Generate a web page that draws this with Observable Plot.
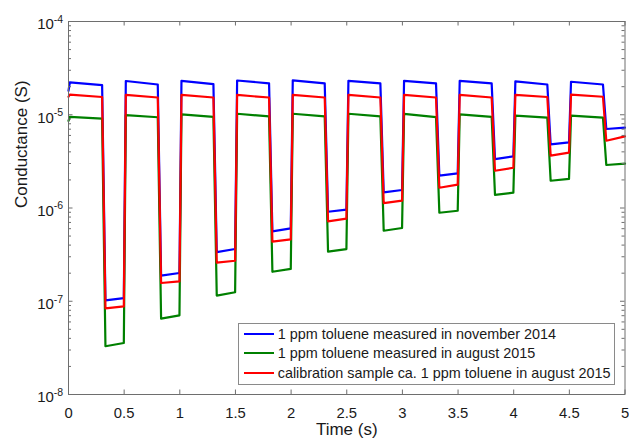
<!DOCTYPE html>
<html>
<head>
<meta charset="utf-8">
<script src="https://cdn.jsdelivr.net/npm/d3@7"></script>
<script src="https://cdn.jsdelivr.net/npm/@observablehq/plot@0.6"></script>
<style>
  body { margin: 0; background: #fff; }
  #wrap { position: relative; width: 629px; height: 443px; font-family: "Liberation Sans", Arial, Helvetica, sans-serif; color: #1a1a1a; }
  #wrap svg { position: absolute; left: 0; top: 0; }
  #legend { position: absolute; left: 238px; top: 323px; width: 377px; height: 62px; box-sizing: border-box;
            border: 1px solid #8a8a8a; background: #fff; padding-top: 0.5px; font-size: 14.4px; }
  #legend .row { height: 19.7px; line-height: 19.7px; white-space: nowrap; }
  #legend .sw { display: inline-block; width: 30px; height: 2.2px; margin-left: 5px; margin-right: 3.7px; vertical-align: middle; position: relative; top: -1px; }
</style>
</head>
<body>
<div id="wrap"><div id="legend"></div></div>
<script>
// ---------- data ----------
const cycleStart = [0, 0.5, 1, 1.5, 2, 2.5, 3, 3.5, 4, 4.5];
const seriesNames = [
  "1 ppm toluene measured in november 2014",
  "1 ppm toluene measured in august 2015",
  "calibration sample ca. 1 ppm toluene in august 2015"
];
const seriesColors = ["#0000ff", "#008000", "#ff0000"];

// initial value at t = 0
const initialValue = [1.81e-5, 8.6e-6, 1.56e-5];

// blue: november 2014
const blueHighStart = [2.22e-5, 2.30e-5, 2.31e-5, 2.33e-5, 2.34e-5, 2.31e-5, 2.31e-5, 2.31e-5, 2.28e-5, 2.26e-5];
const blueHighEnd   = [2.08e-5, 2.11e-5, 2.13e-5, 2.17e-5, 2.17e-5, 2.17e-5, 2.17e-5, 2.17e-5, 2.11e-5, 2.11e-5];
const blueLowStart  = [1.02e-7, 1.88e-7, 3.37e-7, 5.61e-7, 9.12e-7, 1.47e-6, 2.22e-6, 3.35e-6, 4.81e-6, 7.03e-6];
const blueLowEnd    = [1.08e-7, 2.01e-7, 3.63e-7, 6.04e-7, 9.60e-7, 1.56e-6, 2.35e-6, 3.57e-6, 5.05e-6, 7.26e-6];

// green: august 2015
const greenHighStart = [9.5e-6, 9.9e-6, 1.01e-5, 1.025e-5, 1.025e-5, 1.025e-5, 1.02e-5, 1.01e-5, 9.8e-6, 9.8e-6];
const greenHighEnd   = [9.1e-6, 9.4e-6, 9.5e-6, 9.6e-6, 9.6e-6, 9.6e-6, 9.45e-6, 9.5e-6, 9.3e-6, 9.3e-6];
const greenLowStart  = [3.29e-8, 6.5e-8, 1.15e-7, 2.07e-7, 3.40e-7, 5.7e-7, 8.9e-7, 1.38e-6, 1.96e-6, 2.89e-6];
const greenLowEnd    = [3.57e-8, 7.06e-8, 1.25e-7, 2.22e-7, 3.63e-7, 6.1e-7, 9.35e-7, 1.46e-6, 2.05e-6, 2.99e-6];

// red: calibration sample
const redHighStart = [1.64e-5, 1.63e-5, 1.63e-5, 1.63e-5, 1.63e-5, 1.63e-5, 1.63e-5, 1.63e-5, 1.63e-5, 1.64e-5];
const redHighEnd   = [1.55e-5, 1.53e-5, 1.53e-5, 1.53e-5, 1.53e-5, 1.53e-5, 1.53e-5, 1.53e-5, 1.55e-5, 1.56e-5];
const redLowStart  = [8.4e-8, 1.57e-7, 2.59e-7, 4.35e-7, 7.2e-7, 1.13e-6, 1.65e-6, 2.51e-6, 3.64e-6, 5.26e-6];
const redLowEnd    = [8.8e-8, 1.63e-7, 2.72e-7, 4.61e-7, 7.7e-7, 1.20e-6, 1.78e-6, 2.70e-6, 3.92e-6, 5.86e-6];

// ticks
const xTicks = [0, 0.5, 1, 1.5, 2, 2.5, 3, 3.5, 4, 4.5, 5];
const yMajor = [1e-8, 1e-7, 1e-6, 1e-5, 1e-4];
const yMinorFactors = [2, 3, 4, 5, 6, 7, 8, 9];

// ---------- build table ----------
function buildSeries(name, init, hs, he, ls, le) {
  const pts = [{series: name, t: 0, v: init}];
  const n = cycleStart.length;
  cycleStart.forEach((t0, k) => {
    pts.push({series: name, t: t0 + (k === 0 ? 0.012 : 0.015), v: hs[k]});
    pts.push({series: name, t: t0 + 0.302, v: he[k]});
    pts.push({series: name, t: t0 + 0.332, v: ls[k]});
    pts.push({series: name, t: k === n - 1 ? 5 : t0 + 0.497, v: le[k]});
  });
  return pts;
}
const blue  = buildSeries(seriesNames[0], initialValue[0], blueHighStart, blueHighEnd, blueLowStart, blueLowEnd);
const green = buildSeries(seriesNames[1], initialValue[1], greenHighStart, greenHighEnd, greenLowStart, greenLowEnd);
const red   = buildSeries(seriesNames[2], initialValue[2], redHighStart, redHighEnd, redLowStart, redLowEnd);
const yMinor = yMajor.slice(0, -1).flatMap(d => yMinorFactors.map(f => d * f));

// ---------- layout ----------
const W = 629, H = 443, mt = 21, mb = 49, ml = 68, mr = 4.5;
const iw = W - ml - mr, ih = H - mt - mb;
const axisColor = "#6e6e6e";
const majorLen = 4.5, minorLen = 3;

const chart = Plot.plot({
  width: W, height: H,
  marginTop: mt, marginBottom: mb, marginLeft: ml, marginRight: mr,
  style: {fontFamily: "'Liberation Sans', Arial, Helvetica, sans-serif", fontSize: "15px", color: "#1a1a1a", background: "#fff", overflow: "visible"},
  x: {domain: [0, 5]},
  y: {type: "log", domain: [1e-8, 1e-4]},
  marks: [
    Plot.line(blue,  {x: "t", y: "v", stroke: seriesColors[0], strokeWidth: 2.2}),
    Plot.line(green, {x: "t", y: "v", stroke: seriesColors[1], strokeWidth: 2.2}),
    Plot.line(red,   {x: "t", y: "v", stroke: seriesColors[2], strokeWidth: 2.2}),
    Plot.frame({stroke: axisColor, strokeWidth: 1}),
    // inward ticks
    Plot.ruleX(xTicks, {x: d => d, insetTop: ih - majorLen, stroke: axisColor}),
    Plot.ruleX(xTicks, {x: d => d, insetBottom: ih - majorLen, stroke: axisColor}),
    Plot.ruleY(yMajor, {y: d => d, insetRight: iw - majorLen, stroke: axisColor}),
    Plot.ruleY(yMinor, {y: d => d, insetRight: iw - minorLen, stroke: axisColor}),
    Plot.ruleY(yMajor, {y: d => d, insetLeft: iw - majorLen, stroke: axisColor}),
    Plot.ruleY(yMinor, {y: d => d, insetLeft: iw - minorLen, stroke: axisColor}),
    Plot.axisX({ticks: xTicks, tickSize: 0, tickPadding: 12.5, tickFormat: d => String(d), fontSize: 14.8, label: null}),
    Plot.axisY({ticks: yMajor, tickSize: 0, tickPadding: 5.3, tickFormat: d => "10^" + Math.round(Math.log10(d)), dy: 3, fontSize: 15, label: null}),
    Plot.text(["Time (s)"], {text: d => d, frameAnchor: "bottom", dy: 40, fontSize: 17, fill: "#1a1a1a"}),
    Plot.text(["Conductance (S)"], {text: d => d, frameAnchor: "left", dx: -47, rotate: -90, fontSize: 17, fill: "#1a1a1a"})
  ]
});

// superscript exponents on the log-axis labels
chart.querySelectorAll('g[aria-label="y-axis tick label"] text').forEach(t => {
  const s = t.textContent;
  if (!s.includes("^")) return;
  const [base, exp] = s.split("^");
  t.textContent = "";
  const ns = "http://www.w3.org/2000/svg";
  const b = document.createElementNS(ns, "tspan"); b.textContent = base;
  const e = document.createElementNS(ns, "tspan"); e.textContent = exp;
  e.setAttribute("font-size", "10.5"); e.setAttribute("dy", "-6.5");
  t.appendChild(b); t.appendChild(e);
});

const wrap = document.getElementById("wrap");
wrap.insertBefore(chart, wrap.firstChild);

// legend
const legend = document.getElementById("legend");
seriesNames.forEach((name, i) => {
  const row = document.createElement("div"); row.className = "row";
  const sw = document.createElement("span"); sw.className = "sw"; sw.style.background = seriesColors[i];
  row.appendChild(sw);
  row.appendChild(document.createTextNode(name));
  legend.appendChild(row);
});
</script>
</body>
</html>
